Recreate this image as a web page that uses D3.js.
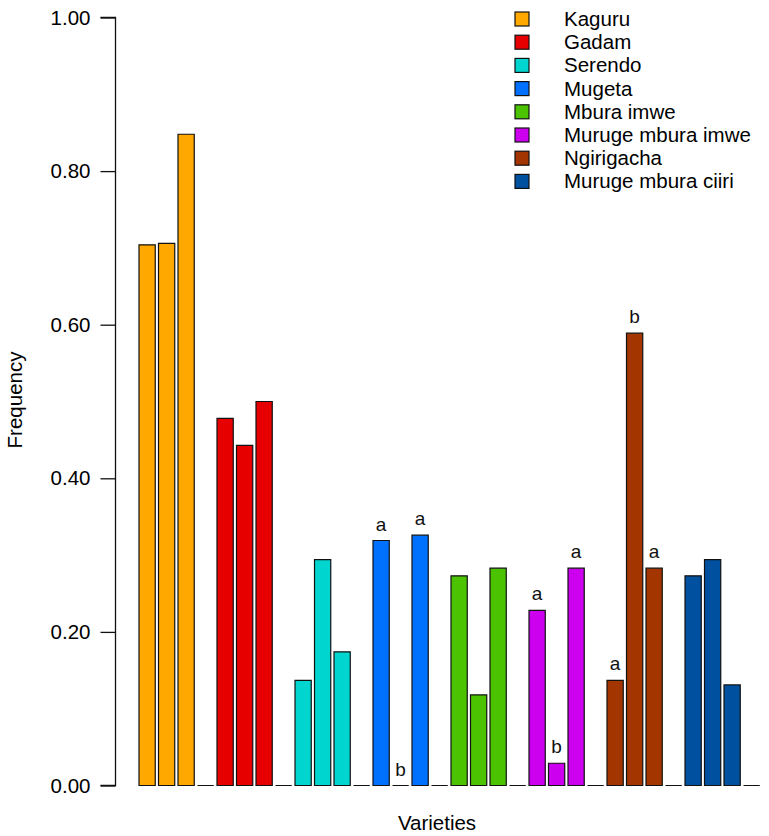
<!DOCTYPE html>
<html>
<head>
<meta charset="utf-8">
<script src="https://cdn.jsdelivr.net/npm/d3@7"></script>
<style>
  html, body { margin: 0; padding: 0; background: #fff; }
  svg { display: block; font-family: "Liberation Sans", Arial, sans-serif; }
</style>
</head>
<body>
<svg id="chart" width="769" height="836"></svg>
<script>
// ---- data ----
const varieties = ["Kaguru", "Gadam", "Serendo", "Mugeta", "Mbura imwe",
                   "Muruge mbura imwe", "Ngirigacha", "Muruge mbura ciiri"];
const colors = ["#FFA800", "#E60000", "#00D6CF", "#0070FF", "#4CC300",
                "#CC00EE", "#A33500", "#0050A0"];
// three bars per variety
const freqA = [0.704, 0.478, 0.137, 0.319, 0.273, 0.228, 0.137, 0.273];
const freqB = [0.706, 0.443, 0.294, 0.000, 0.118, 0.029, 0.589, 0.294];
const freqC = [0.848, 0.500, 0.174, 0.326, 0.283, 0.283, 0.283, 0.131];
const lettersA = ["", "", "", "a", "", "a", "a", ""];
const lettersB = ["", "", "", "b", "", "b", "b", ""];
const lettersC = ["", "", "", "a", "", "a", "a", ""];
const yTicks = [0, 0.2, 0.4, 0.6, 0.8, 1.0];

// ---- build bar list: 3 bars + empty spacer bar per group ----
const bars = [];
varieties.forEach((v, g) => {
  [[freqA, lettersA], [freqB, lettersB], [freqC, lettersC]].forEach(([vals, lets], k) => {
    bars.push({ id: g * 4 + k, value: vals[g], color: colors[g], letter: lets[g] });
  });
  bars.push({ id: g * 4 + 3, value: 0, color: "#ffffff", letter: "" });
});

const svg = d3.select("#chart");
const space = 0.2, barW = 1;
const x = d3.scaleLinear().domain([0, bars.length * (space + barW)]).range([135.75, 759.75]);
const y = d3.scaleLinear().domain([0, 1]).range([785.5, 17.5]);
const bx = d => x(space + d.id * (space + barW));
const bw = x(barW) - x(0);

// bars (paths so zero-height bars still show their outline)
svg.append("g").selectAll("path").data(bars).join("path")
  .attr("d", d => `M${bx(d)},${y(0)}V${y(d.value)}H${bx(d) + bw}V${y(0)}Z`)
  .attr("fill", d => d.color)
  .attr("stroke", "#111")
  .attr("stroke-width", 1.2);

// letters
svg.append("g").selectAll("text").data(bars.filter(d => d.letter)).join("text")
  .attr("x", d => bx(d) + bw / 2)
  .attr("y", d => y(d.value) - 10)
  .attr("text-anchor", "middle")
  .attr("font-size", 19)
  .attr("fill", "#111")
  .text(d => d.letter);

// y axis
const yAxis = d3.axisLeft(y).tickValues(yTicks).tickFormat(d3.format(".2f"))
  .tickSize(15).tickPadding(10);
const ga = svg.append("g").attr("transform", "translate(115.5,0)").call(yAxis);
ga.select(".domain").attr("d", `M-15,${y(1)}H0V${y(0)}H-15`).attr("stroke", "#111").attr("stroke-width", 1.3);
ga.selectAll(".tick line").attr("stroke", "#111").attr("stroke-width", 1.3);
ga.selectAll(".tick text").attr("font-size", 20.5).attr("fill", "#000")
  .attr("font-family", "Liberation Sans, Arial, sans-serif");

// axis titles
svg.append("text")
  .attr("transform", "translate(22,400) rotate(-90)")
  .attr("text-anchor", "middle")
  .attr("font-size", 20.5)
  .text("Frequency");
svg.append("text")
  .attr("x", 437).attr("y", 830)
  .attr("text-anchor", "middle")
  .attr("font-size", 20.5)
  .text("Varieties");

// legend
const lg = svg.append("g");
varieties.forEach((v, i) => {
  const cy = 19 + i * 23.2;
  lg.append("rect")
    .attr("x", 515).attr("y", cy - 7)
    .attr("width", 14).attr("height", 14)
    .attr("fill", colors[i]).attr("stroke", "#111").attr("stroke-width", 1.2);
  lg.append("text")
    .attr("x", 564).attr("y", cy + 7)
    .attr("font-size", 20.5)
    .text(v);
});
</script>
</body>
</html>
